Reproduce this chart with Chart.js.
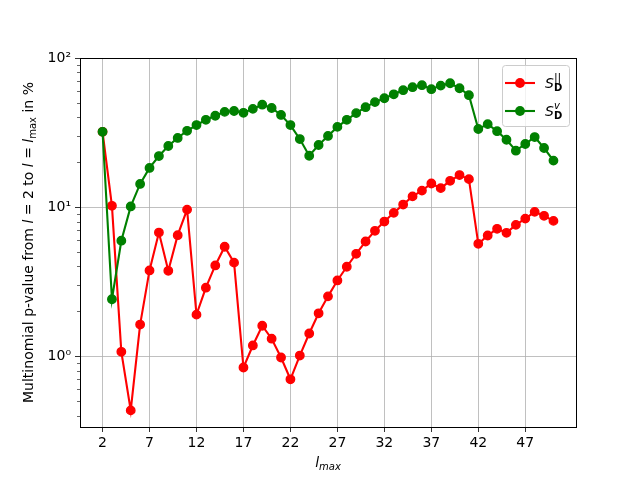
<!DOCTYPE html>
<html>
<head>
<meta charset="utf-8">
<script src="https://cdn.jsdelivr.net/npm/chart.js@4/dist/chart.umd.min.js"></script>
<style>
  html, body { margin: 0; padding: 0; background: #fff; }
  #wrap { width: 640px; height: 480px; }
</style>
</head>
<body>
<div id="wrap"><canvas id="chart" width="640" height="480"></canvas></div>
<script>
const lmax = [2, 3, 4, 5, 6, 7, 8, 9, 10, 11, 12, 13, 14, 15, 16, 17, 18, 19, 20, 21, 22, 23, 24, 25, 26,
	27, 28, 29, 30, 31, 32, 33, 34, 35, 36, 37, 38, 39, 40, 41, 42, 43, 44, 45, 46, 47, 48, 49, 50];

// p-values in %
const pPar = [32, 10.2, 1.07, 0.433, 1.63, 3.76, 6.75, 3.74, 6.48, 9.62, 1.90, 2.88, 4.06, 5.42, 4.24,
	0.84, 1.18, 1.60, 1.31, 0.98, 0.70, 1.01, 1.42, 1.94, 2.52, 3.22, 3.98, 4.86, 5.88, 6.93, 8.0,
	9.15, 10.4, 11.8, 12.9, 14.4, 13.4, 15.0, 16.4, 15.4, 5.67, 6.45, 7.15, 6.72, 7.6, 8.37, 9.29,
	8.74, 8.08];
const pV = [32, 2.41, 5.95, 10.1, 14.3, 18.3, 22, 25.7, 29.1, 32.5, 35.5, 38.5, 41, 43.5, 44.1,
	42.9, 45.6, 48.6, 46.2, 41.5, 35.5, 28.6, 22.1, 26.1, 30, 34.5, 38.5, 42.7, 46.8, 50.6, 53.7,
	57.1, 60.8, 63.7, 65.7, 61.8, 65.3, 67.7, 62.7, 56.3, 33.4, 36, 32.3, 28.3, 23.9, 26.5, 29.5,
	24.9, 20.5];

const xTicks = [2, 7, 12, 17, 22, 27, 32, 37, 42, 47];
const yTicks = [1, 10, 100];
const yTickLabels = ['10\u2070', '10\u00b9', '10\u00b2'];
const yMinorTicks = [0.4, 0.5, 0.6, 0.7, 0.8, 0.9, 2, 3, 4, 5, 6, 7, 8, 9, 20, 30, 40, 50, 60, 70, 80, 90];

const FONT = '"DejaVu Sans", sans-serif';

// draw a run of text pieces (italic / bold / sub / sup) one after another
function richWidth(ctx, segs){
	let w = 0;
	segs.forEach(s => {
		ctx.font = (s.italic ? 'italic ' : '') + (s.bold ? 'bold ' : '') + s.size + 'px ' + FONT;
		const sw = ctx.measureText(s.t).width;
		if(!s.stack) w += sw;
	});
	return w;
}
function drawRich(ctx, segs, x, y){
	let cx = x;
	let lastX = x;
	segs.forEach(s => {
		ctx.font = (s.italic ? 'italic ' : '') + (s.bold ? 'bold ' : '') + s.size + 'px ' + FONT;
		const px = s.stack ? lastX : cx;
		ctx.fillText(s.t, px, y + (s.dy || 0));
		if(!s.stack){
			lastX = cx;
			cx += ctx.measureText(s.t).width;
		}
	});
}

const mplPlugin = {
	id: 'mpl',
	afterDatasetsDraw(chart){
		const ctx = chart.ctx;
		const a = chart.chartArea;
		const ys = chart.scales.y;
		ctx.save();
		// minor ticks on the log axis
		ctx.strokeStyle = '#000';
		ctx.lineWidth = 0.6;
		yMinorTicks.forEach(v => {
			const py = Math.round(ys.getPixelForValue(v)) + 0.5;
			ctx.beginPath();
			ctx.moveTo(a.left - 3, py);
			ctx.lineTo(a.left, py);
			ctx.stroke();
		});
		// frame
		ctx.lineWidth = 1;
		ctx.strokeRect(Math.round(a.left) + 0.5, Math.round(a.top) + 0.5,
			Math.round(a.right - a.left), Math.round(a.bottom - a.top));
		ctx.restore();
	},
	afterDraw(chart){
		const ctx = chart.ctx;
		const a = chart.chartArea;
		ctx.save();
		ctx.fillStyle = '#000';
		ctx.textBaseline = 'middle';

		// x axis title
		const xt = [
			{ t: 'l', italic: true, size: 14 },
			{ t: 'max', italic: true, size: 10, dy: 4 }
		];
		const xw = richWidth(ctx, xt);
		drawRich(ctx, xt, (a.left + a.right) / 2 - xw / 2, 463);

		// y axis title
		const yt = [
			{ t: 'Multinomial p-value from ', size: 14 },
			{ t: 'l', italic: true, size: 14 },
			{ t: ' = 2 to ', size: 14 },
			{ t: 'l', italic: true, size: 14 },
			{ t: ' = ', size: 14 },
			{ t: 'l', italic: true, size: 14 },
			{ t: 'max', size: 10, dy: 4 },
			{ t: ' in %', size: 14 }
		];
		const yw = richWidth(ctx, yt);
		ctx.save();
		ctx.translate(29, (a.top + a.bottom) / 2);
		ctx.rotate(-Math.PI / 2);
		drawRich(ctx, yt, -yw / 2, 0);
		ctx.restore();

		// legend
		const bw = 67, bh = 61;
		const bx = a.right - 7 - bw, by = a.top + 7;
		ctx.beginPath();
		ctx.roundRect(bx + 0.5, by + 0.5, bw, bh, 3);
		ctx.fillStyle = 'rgba(255,255,255,0.8)';
		ctx.fill();
		ctx.strokeStyle = '#cccccc';
		ctx.lineWidth = 1;
		ctx.stroke();
		chart.data.datasets.forEach((ds, i) => {
			const ry = by + 18 + i * 28;
			ctx.strokeStyle = ds.borderColor;
			ctx.lineWidth = ds.borderWidth;
			ctx.beginPath();
			ctx.moveTo(bx + 3, ry);
			ctx.lineTo(bx + 33, ry);
			ctx.stroke();
			ctx.fillStyle = ds.borderColor;
			ctx.beginPath();
			ctx.arc(bx + 18, ry, ds.pointRadius + ds.pointBorderWidth / 2, 0, Math.PI * 2);
			ctx.fill();
			ctx.fillStyle = '#000';
			drawRich(ctx, ds.legendText, bx + 43, ry + 1);
		});
		ctx.restore();
	}
};

new Chart(document.getElementById('chart'), {
	type: 'line',
	data: {
		datasets: [
			{
				label: 'S_D^||',
				legendText: [
					{ t: 'S', italic: true, size: 14 },
					{ t: 'D', bold: true, size: 10, dy: 4 },
					{ t: '||', size: 11, dy: -6, stack: true }
				],
				data: lmax.map((x, i) => ({ x, y: pPar[i] })),
				borderColor: '#ff0000',
				backgroundColor: '#ff0000',
				pointBackgroundColor: '#ff0000',
				pointBorderColor: '#ff0000',
				borderWidth: 2.1,
				pointRadius: 4.2,
				pointBorderWidth: 1.4,
				tension: 0,
				order: 1
			},
			{
				label: 'S_D^v',
				legendText: [
					{ t: 'S', italic: true, size: 14 },
					{ t: 'D', bold: true, size: 10, dy: 4 },
					{ t: 'v', italic: true, size: 10, dy: -6, stack: true }
				],
				data: lmax.map((x, i) => ({ x, y: pV[i] })),
				borderColor: '#008000',
				backgroundColor: '#008000',
				pointBackgroundColor: '#008000',
				pointBorderColor: '#008000',
				borderWidth: 2.1,
				pointRadius: 4.2,
				pointBorderWidth: 1.4,
				tension: 0,
				order: 0
			}
		]
	},
	options: {
		responsive: false,
		animation: false,
		devicePixelRatio: 1,
		layout: { padding: { top: 58, right: 64, left: 0, bottom: 0 } },
		plugins: { legend: { display: false }, tooltip: { enabled: false } },
		scales: {
			x: {
				type: 'linear',
				bounds: 'data',
				min: -0.4,
				max: 52.4,
				afterBuildTicks: (s) => { s.ticks = xTicks.map(v => ({ value: v })); },
				afterFit: (s) => { s.height = 53; },
				ticks: { color: '#000', font: { family: FONT, size: 14 }, padding: 3, autoSkip: false, maxRotation: 0 },
				grid: { color: '#b0b0b0', lineWidth: 0.8, tickColor: '#000', tickLength: 5, tickWidth: 0.8 },
				border: { display: false }
			},
			y: {
				type: 'logarithmic',
				bounds: 'data',
				min: 0.335,
				max: 100,
				afterBuildTicks: (s) => { s.ticks = yTicks.map(v => ({ value: v, major: true })); },
				afterFit: (s) => { s.width = 80; },
				ticks: {
					color: '#000',
					font: { family: FONT, size: 14 },
					padding: 4,
					autoSkip: false,
					callback: (v) => { const i = yTicks.indexOf(v); return i >= 0 ? yTickLabels[i] : ''; }
				},
				grid: { color: '#b0b0b0', lineWidth: 0.8, tickColor: '#000', tickLength: 5, tickWidth: 0.8 },
				border: { display: false }
			}
		}
	},
	plugins: [mplPlugin]
});
</script>
</body>
</html>
